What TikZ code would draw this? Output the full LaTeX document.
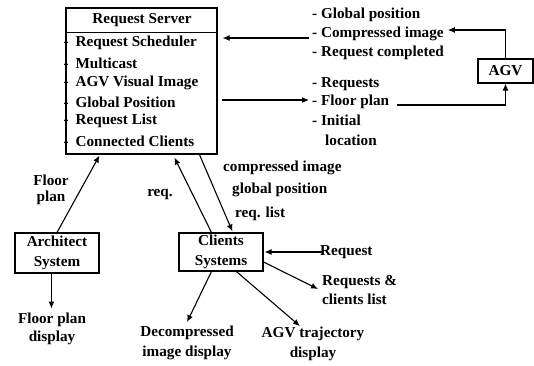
\documentclass[tikz,border=0pt]{standalone}
\usepackage{fontspec}
\setmainfont{Liberation Serif}
\usetikzlibrary{arrows.meta,calc}
\begin{document}
\begin{tikzpicture}[x=1pt,y=-1pt,
  txt/.style={inner sep=0pt,font=\bfseries\fontsize{15.2}{19.5}\selectfont},
  box/.style={draw,line width=1.1pt,inner sep=0pt,txt,align=center},
  arr/.style={line width=1.1pt,-{Latex[length=7pt,width=6pt]}},
  ln/.style={line width=1.1pt}]
\useasboundingbox (0,0) rectangle (534,365);
% Request server
\node[box,minimum width=151pt,minimum height=146pt] (server) at (141.5,81) {};
\node[txt] (title) at (142,20) {Request Server};
\draw[ln] ($(server.north west)+(0,25)$) -- ($(server.north east)+(0,25)$);
\foreach \t/\y [count=\i] in {Request Scheduler/43,Multicast/63,AGV Visual Image/83,Global Position/102,Request List/121,Connected Clients/141}
  \node[txt,anchor=west] (it\i) at (63.5,\y) {-\hspace{0.45em}\t};
% right text blocks
\node[txt,anchor=west] (gp) at (312,15) {- Global position};
\node[txt,anchor=west] (ci) at (312,34) {- Compressed image};
\node[txt,anchor=west] (rc) at (312,53) {- Request completed};
\node[txt,anchor=west] (rq) at (312,84) {- Requests};
\node[txt,anchor=west] (fp) at (312,102) {- Floor plan};
\node[txt,anchor=west] (ini) at (312,120) {- Initial};
\node[txt,anchor=west] (loc) at (325,140) {location};
% AGV
\node[box,minimum width=55pt,minimum height=24pt] (agv) at (505.5,71) {AGV};
\draw[arr] ($(ci.west)+(-3,4)$) -- ($(server.east |- ci.west)+(5,4)$);
\draw[arr] (agv.north) |- ($(ci.east)+(4,-4)$);
\draw[arr] ($(server.east |- fp.west)+(4,-2)$) -- ($(fp.west)+(-3,-2)$);
\draw[arr] ($(fp.east)+(8,3)$) -| (agv.south);
% middle labels
\node[txt,anchor=west] (lci) at (223,168) {compressed image};
\node[txt,anchor=west] (lgp) at (232,190) {global position};
\node[txt,anchor=west] (lrl) at (235,214) {req. list};
\node[txt] (lreq) at (160,194) {req.};
\node[txt,align=center,font=\bfseries\fontsize{15.2}{16}\selectfont] (lfp) at (51,190) {Floor\\plan};
% clients and architect
\node[box,minimum width=84pt,minimum height=38pt] (cli) at (221,252) {Clients\\Systems};
\node[box,minimum width=84pt,minimum height=40pt] (arch) at (57,253) {Architect\\System};
\draw[arr] (arch.north) -- ($(server.south west)+(34,1)$);
\draw[arr] ($(cli.north west)+(33,0)$) -- ($(server.south west)+(109,3)$);
\draw[arr] ($(server.south west)+(134,0)$) -- ($(cli.north west)+(54,-1)$);
% outputs
\node[txt,align=center,font=\bfseries\fontsize{15.2}{17.5}\selectfont] (fpd) at (52,329) {Floor plan\\display};
\node[txt,align=center] (dec) at (187,343) {Decompressed\\image display};
\node[txt,align=center] (atd) at (313,344) {AGV trajectory\\display};
\node[txt,align=left,anchor=west] (rcl) at (322,290) {Requests \&\\clients list};
\node[txt,anchor=west] (rqt) at (320,252) {Request};
\draw[arr] ($(arch.south west)+(37,0)$) -- ($(arch.south west)+(37,35)$);
\draw[arr] ($(rqt.west)+(3,0)$) -- ($(cli.east |- rqt.west)+(1,0)$);
\draw[arr] ($(cli.east)+(0,10)$) -- ($(rcl.west)+(-4,-1)$);
\draw[arr] ($(cli.south west)+(58,0)$) -- ($(atd.north)+(-13,-1)$);
\draw[arr] ($(cli.south west)+(33,0)$) -- ($(dec.north)+(0,-4)$);
\end{tikzpicture}
\end{document}
